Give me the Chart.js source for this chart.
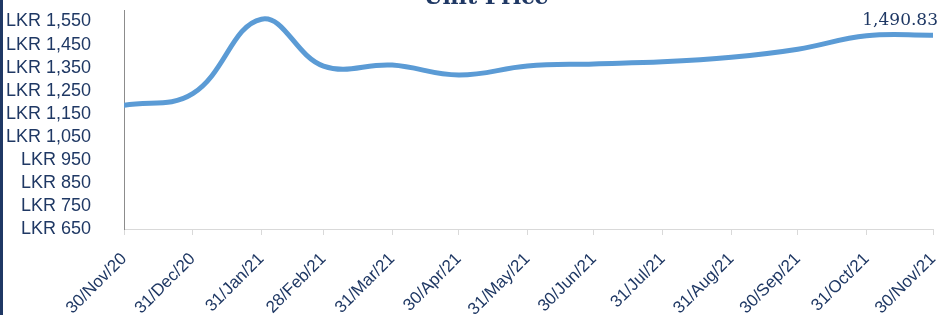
<!DOCTYPE html>
<html>
<head>
<meta charset="utf-8">
<script src="https://cdn.jsdelivr.net/npm/chart.js@4.4.1/dist/chart.umd.min.js"></script>
<style>
  html, body { margin: 0; padding: 0; background: #fff; }
  #wrap { position: relative; width: 943px; height: 315px; overflow: hidden; }
  #edge { position: absolute; left: 0; top: 0; width: 3px; height: 315px; background: #1f3864; }
</style>
</head>
<body>
<div id="wrap">
  <canvas id="c" width="943" height="315"></canvas>
  <div id="edge"></div>
</div>
<script>
// month-end valuation dates and unit prices (LKR)
const dateLabels = ['30/Nov/20', '31/Dec/20', '31/Jan/21', '28/Feb/21', '31/Mar/21', '30/Apr/21',
                    '31/May/21', '30/Jun/21', '31/Jul/21', '31/Aug/21', '30/Sep/21', '31/Oct/21', '30/Nov/21'];
const unitPrices = [1187, 1237, 1560, 1357, 1361, 1318, 1357, 1366, 1375, 1395, 1430, 1488, 1490.83];
const yTicks     = [650, 750, 850, 950, 1050, 1150, 1250, 1350, 1450, 1550];
const lastLabel  = '1,490.83';
const chartTitle = 'Unit Price';

const NAVY = '#1f3864';
const MONTHS = { Jan: 0, Feb: 1, Mar: 2, Apr: 3, May: 4, Jun: 5, Jul: 6, Aug: 7, Sep: 8, Oct: 9, Nov: 10, Dec: 11 };

// day offsets so ticks sit on a real date axis
function dayOf(lbl) {
  const [d, m, y] = lbl.split('/');
  return Date.UTC(2000 + +y, MONTHS[m], +d) / 86400000;
}
const day0 = dayOf(dateLabels[0]);
const days = dateLabels.map(l => dayOf(l) - day0);
const points = days.map((d, i) => ({ x: d, y: unitPrices[i] }));

const fmt = v => 'LKR ' + v.toLocaleString('en-US');

const extrasPlugin = {
  id: 'extras',
  afterDatasetsDraw(chart) {
    const ctx = chart.ctx;
    const meta = chart.getDatasetMeta(0);
    const last = meta.data[meta.data.length - 1];
    ctx.save();
    ctx.fillStyle = NAVY;
    ctx.font = '17px "DejaVu Serif"';
    ctx.textAlign = 'right';
    ctx.textBaseline = 'alphabetic';
    ctx.fillText(lastLabel, last.x + 5, last.y - 10);
    // title, mostly cut off at the top of the frame
    ctx.font = 'bold 22px "DejaVu Serif"';
    ctx.textAlign = 'center';
    ctx.fillText(chartTitle, 486, 4);
    ctx.restore();
  }
};

new Chart(document.getElementById('c'), {
  type: 'line',
  data: {
    datasets: [{
      data: points,
      borderColor: '#5b9bd5',
      backgroundColor: 'transparent',
      borderWidth: 5,
      borderCapStyle: 'round',
      pointRadius: 0,
      tension: 0.4,
      fill: false,
    }]
  },
  options: {
    responsive: false,
    animation: false,
    layout: { padding: { left: 0, right: 10, top: 10, bottom: 0 } },
    plugins: { legend: { display: false }, tooltip: { enabled: false } },
    scales: {
      x: {
        type: 'linear',
        min: 0,
        max: days[days.length - 1],
        afterBuildTicks: s => { s.ticks = days.map(v => ({ value: v })); },
        afterFit: s => { s.height = 86; s.paddingLeft = 0; s.paddingRight = 0; },
        grid: { drawOnChartArea: false, drawTicks: true, tickLength: 6, color: '#d9d9d9' },
        border: { display: true, color: '#d9d9d9', width: 1 },
        ticks: {
          autoSkip: false,
          minRotation: 45,
          maxRotation: 45,
          padding: 14,
          color: NAVY,
          font: { family: '"Liberation Sans"', size: 17 },
          callback: v => dateLabels[days.indexOf(v)],
        }
      },
      y: {
        min: 650,
        max: 1600,
        afterBuildTicks: s => { s.ticks = yTicks.map(v => ({ value: v })); },
        afterFit: s => { s.width = 124; s.paddingTop = 0; s.paddingBottom = 0; },
        grid: { display: false },
        border: { display: true, color: '#8c8c8c', width: 1 },
        ticks: {
          autoSkip: false,
          padding: 25,
          color: NAVY,
          font: { family: '"Liberation Sans"', size: 18 },
          callback: v => fmt(v),
        }
      }
    }
  },
  plugins: [extrasPlugin]
});
</script>
</body>
</html>
